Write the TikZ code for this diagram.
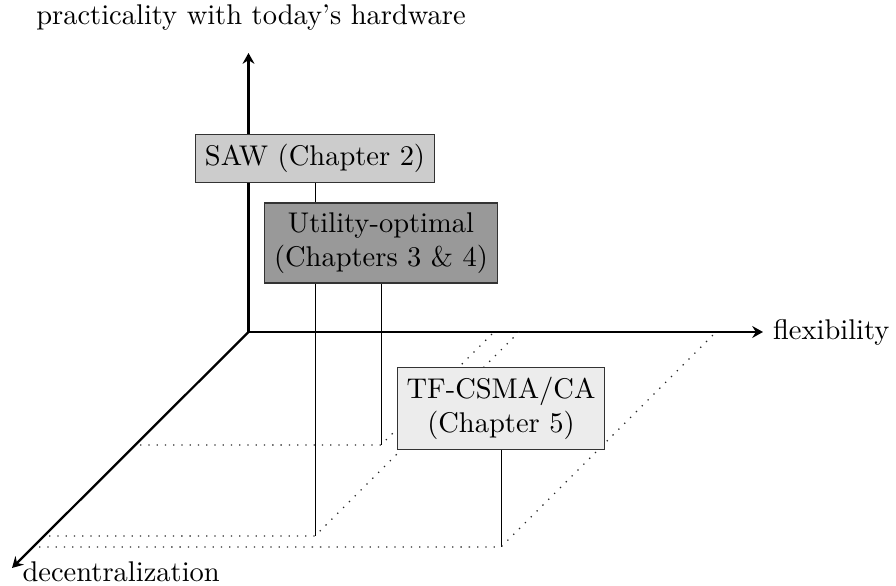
\documentclass[tikz,border=0pt]{standalone}
\usetikzlibrary{backgrounds,arrows.meta}
\begin{document}
\begin{tikzpicture}[x=0.3509pt,y=-0.3509pt,
  axis/.style={thick,-{Stealth[length=3.8pt,width=4.2pt,inset=1.3pt]}},
  stem/.style={line width=0.35pt,black},
  guide/.style={thin,black!85,dash pattern=on 0.45pt off 2.45pt},
  chbox/.style={draw=black!80,thin,align=center,inner sep=3.33pt},
]
\useasboundingbox (0,0) rectangle (896,586);
% axes end points
\coordinate (O) at (248.5,332);
\coordinate (ytip) at (248.5,53);
\coordinate (xtip) at (763,332);
\coordinate (ztip) at (12,568);
% boxes
\node[chbox,fill=gray!40] (saw) at (315,158.5) {SAW (Chapter 2)};
\node[chbox,fill=gray!80] (uo) at (381,243) {Utility-optimal\\(Chapters 3 \& 4)};
\node[chbox,fill=gray!15] (tf) at (501,408.5) {TF-CSMA/CA\\(Chapter 5)};
% axis labels
\node[anchor=south] (ylab) at (251,40) {practicality with today's hardware};
\node[anchor=west] (xlab) at (xtip) {flexibility};
\node[anchor=north west] (zlab) at (12.5,552) {decentralization};
% floor points
\coordinate (f1) at (315,536);
\coordinate (a1) at (49,536);
\coordinate (b1) at (519,332);
\coordinate (f2) at (381,445);
\coordinate (a2) at (140,445);
\coordinate (b2) at (494,332);
\coordinate (f3) at (501,547);
\coordinate (a3) at (39,547);
\coordinate (b3) at (716,332);
\begin{scope}[on background layer]
  \draw[axis] (O) -- (ytip);
  \draw[axis] (O) -- (xtip);
  \draw[axis] (O) -- (ztip);
  \draw[stem] (saw.south) -- (f1);
  \draw[stem] (uo.south -| f2) -- (f2);
  \draw[stem] (tf.south) -- (f3);
  \draw[guide] (a1) -- (f1) -- (b1);
  \draw[guide] (a2) -- (f2) -- (b2);
  \draw[guide] (a3) -- (f3) -- (b3);
\end{scope}
\end{tikzpicture}
\end{document}
